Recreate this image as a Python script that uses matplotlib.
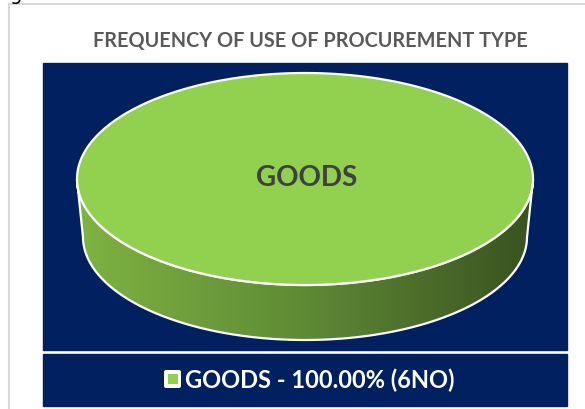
import numpy as np
import matplotlib
matplotlib.use('Agg')
import matplotlib.pyplot as plt
from matplotlib.patches import Rectangle, Polygon, FancyBboxPatch
from matplotlib.colors import LinearSegmentedColormap

# data
title = 'FREQUENCY OF USE OF PROCUREMENT TYPE'
categories = ['GOODS']
counts = [6]
top_colors = ['#92D050']
side_dark = ['#3A5220']
side_light = ['#7FB342']

W, H = 585, 409
fig = plt.figure(figsize=(W / 100, H / 100), dpi=100)
ax = fig.add_axes([0, 0, 1, 1])
ax.set_xlim(0, W)
ax.set_ylim(H, 0)
ax.axis('off')

navy = '#002060'
font = ['Lato', 'DejaVu Sans']

# outer frame of the sheet
ax.plot([9, W], [4, 4], color='#d9d9d9', lw=1.5)
ax.plot([9, 9], [4, H], color='#d9d9d9', lw=1.5)
fig.text(16 / W, 1 + 6 / H, 'g', fontsize=14, color='black', ha='center', va='center')

# plot area and legend boxes
ax.add_patch(Rectangle((43, 63), 524, 287, color=navy, zorder=1))
ax.add_patch(Rectangle((43, 354), 524, 52, color=navy, zorder=1))

ax.text(310, 41, title, ha='center', va='center', fontsize=14.3,
        fontweight='bold', color='#595959', family=font)

# 3d pie geometry
cx, cy = 305, 179
a, b = 228, 106
depth = 58
a2, b2 = a - 6, b - 3

total = float(sum(counts))
start = -np.pi / 2
for cat, n, ctop, cdark, clight in zip(categories, counts, top_colors, side_dark, side_light):
    span = 2 * np.pi * n / total
    t = np.linspace(start, start + span, 400)
    # side wall: front half only
    tf = np.sort(t[(np.sin(t) >= 0)])
    if len(tf) > 1:
        upper = np.column_stack([cx + a * np.cos(tf), cy + b * np.sin(tf)])
        lower = np.column_stack([cx + a2 * np.cos(tf), cy + depth + b2 * np.sin(tf)])[::-1]
        side = Polygon(np.vstack([upper, lower]), closed=True, facecolor='none',
                       edgecolor='white', lw=1.6, zorder=3)
        ax.add_patch(side)
        cmap = LinearSegmentedColormap.from_list('side', [clight, '#5E8A35', cdark])
        grad = np.linspace(0, 1, 256).reshape(1, -1)
        im = ax.imshow(grad, cmap=cmap, extent=[cx - a, cx + a, cy + depth + b + 5, cy - 5],
                       aspect='auto', zorder=2)
        im.set_clip_path(side)
    if span >= 2 * np.pi - 1e-9:
        pts = np.column_stack([cx + a * np.cos(t), cy + b * np.sin(t)])
    else:
        pts = np.vstack([[cx, cy], np.column_stack([cx + a * np.cos(t), cy + b * np.sin(t)])])
    ax.add_patch(Polygon(pts, closed=True, facecolor=ctop, edgecolor='white', lw=1.6, zorder=4))
    mid = start + span / 2
    lx = cx if n == total else cx + 0.5 * a * np.cos(mid)
    ly = cy if n == total else cy + 0.5 * b * np.sin(mid)
    ax.text(lx + 2, ly - 1, cat, ha='center', va='center', fontsize=20, fontweight='bold',
            color='#404040', family=font, zorder=5)
    start += span

# legend
for cat, n, ctop in zip(categories, counts, top_colors):
    label = f'{cat} - {100 * n / total:.2f}% ({n}NO)'
    ax.add_patch(FancyBboxPatch((164, 370), 17, 18, boxstyle='round,pad=0,rounding_size=2',
                                facecolor='white', edgecolor='none', zorder=3))
    ax.add_patch(Rectangle((168, 374), 10, 10, facecolor=ctop, edgecolor='none', zorder=4))
    ax.text(185, 380, label, ha='left', va='center', fontsize=17, fontweight='bold',
            color='white', family=font, zorder=4)

fig.savefig('out.png', dpi=100)
